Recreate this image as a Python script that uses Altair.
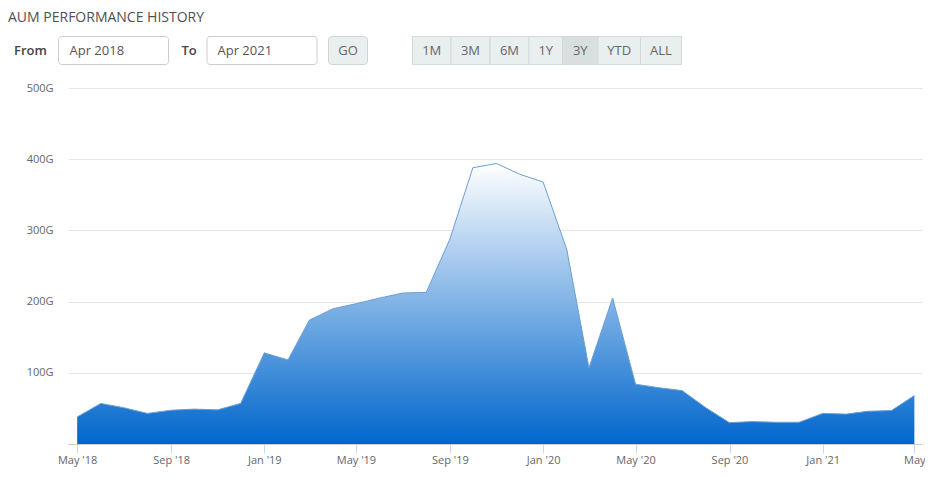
import altair as alt
import pandas as pd

# ---- data ----
months = pd.date_range("2018-05-01", "2021-05-01", freq="MS").strftime("%Y-%m-%d").tolist()
aum = [38, 57, 51, 43, 47.5, 49, 48, 57,
       128, 118, 174, 190, 197, 205, 212, 213, 288, 388, 394, 379,
       368, 273, 107, 205, 84, 79, 75, 51, 30, 31.5, 30.5, 30.5,
       43, 42, 46, 47, 68]
title_text = "AUM PERFORMANCE HISTORY"
from_label, to_label = "From", "To"
from_value, to_value = "Apr 2018", "Apr 2021"
go_label = "GO"
range_buttons = ["1M", "3M", "6M", "1Y", "3Y", "YTD", "ALL"]
selected_button = "3Y"
tick_dates = ["2018-05-01", "2018-09-01", "2019-01-01", "2019-05-01", "2019-09-01",
              "2020-01-01", "2020-05-01", "2020-09-01", "2021-01-01", "2021-05-01"]
y_ticks = [0, 100, 200, 300, 400, 500]

df = pd.DataFrame({"date": months, "aum": aum})

FONT = "Open Sans"


def dt(s):
    y, m, d = (int(p) for p in s.split("-"))
    return alt.DateTime(year=y, month=m, date=d, utc=True)


x_scale = alt.Scale(type="utc", domain=[dt("2018-04-19"), dt("2021-05-11")], nice=False)
y_scale = alt.Scale(domain=[0, 500], nice=False)

x_enc = alt.X("date:T", scale=x_scale, title=None,
              axis=alt.Axis(values=[dt(d) for d in tick_dates],
                            labelExpr="utcyear(datum.value) == 2021 && utcmonth(datum.value) == 4 ? 'May' : utcFormat(datum.value, \"%b '%y\")",
                            grid=False, domain=True, domainColor="#cccccc",
                            ticks=True, tickSize=9, tickColor="#ccd6eb",
                            labelPadding=1, labelFont=FONT, labelFontSize=11,
                            labelColor="#666666", labelBaseline="top", labelFlush=False,
                            labelOverlap=False))
y_enc = alt.Y("aum:Q", scale=y_scale, title=None,
              axis=alt.Axis(values=y_ticks,
                            labelExpr="datum.value == 0 ? '' : datum.value + 'G'",
                            grid=True, gridColor="#e6e6e6", domain=False, ticks=False,
                            tickSize=0, labelPadding=15, labelFont=FONT, labelFontSize=11,
                            labelColor="#666666"))

gradient = alt.Gradient(gradient="linear",
                        stops=[alt.GradientStop(color="#ffffff", offset=0),
                               alt.GradientStop(color="#0066cc", offset=1)],
                        x1=0, x2=0, y1=0, y2=1)

area = alt.Chart(df).mark_area(color=gradient, interpolate="linear").encode(x=x_enc, y=y_enc)
line = alt.Chart(df).mark_line(color="#6e9fd3", strokeWidth=1).encode(x="date:T", y="aum:Q")

one = alt.Data(values=[{"k": 1}])


def box(x1, x2, y1, y2, fill, stroke, radius=0):
    return alt.Chart(one).mark_rect(fill=fill, stroke=stroke, strokeWidth=1,
                                    cornerRadius=radius).encode(
        x=alt.value(x1), x2=alt.value(x2), y=alt.value(y1), y2=alt.value(y2))


def label(text, x, y, size=13, color="#555555", weight="normal", align="left",
          baseline="middle"):
    return alt.Chart(one).mark_text(text=text, font=FONT, fontSize=size, color=color,
                                    fontWeight=weight, align=align, baseline=baseline).encode(
        x=alt.value(x), y=alt.value(y))


deco = [
    label(title_text, -60, -77, size=14, color="#505050", baseline="top"),
    label(from_label, -54, -37.5, color="#444444", weight=600),
    box(-9.5, 100.5, -51.5, -23.5, "#ffffff", "#cccccc", 3),
    label(from_value, 1.5, -37.5),
    label(to_label, 113.5, -37.5, color="#444444", weight=600),
    box(139, 249, -51.5, -23.5, "#ffffff", "#cccccc", 3),
    label(to_value, 149.5, -37.5),
    box(260.5, 299.5, -51.5, -23.5, "#e9eeee", "#cfd6d6", 3),
    label(go_label, 280, -37.5, color="#666666", align="center"),
]

edges = [344.5, 383, 422, 461, 494.5, 530, 572.5, 613.5]
for i, name in enumerate(range_buttons):
    fill = "#d9dfdf" if name == selected_button else "#e9eeee"
    deco.append(box(edges[i], edges[i + 1], -51.5, -23.5, fill, "#d3dada"))
for i, name in enumerate(range_buttons):
    deco.append(label(name, (edges[i] + edges[i + 1]) / 2, -37.5, color="#666666", align="center"))

chart = alt.layer(area, line, *deco).properties(
    width=854, height=356,
    autosize=alt.AutoSizeParams(type="none"),
    padding={"left": 60, "top": 80, "right": 3, "bottom": 24},
).configure(font=FONT, view=alt.ViewConfig(stroke=None))

chart.save("out.html", embed_options={"renderer": "svg", "actions": False})
